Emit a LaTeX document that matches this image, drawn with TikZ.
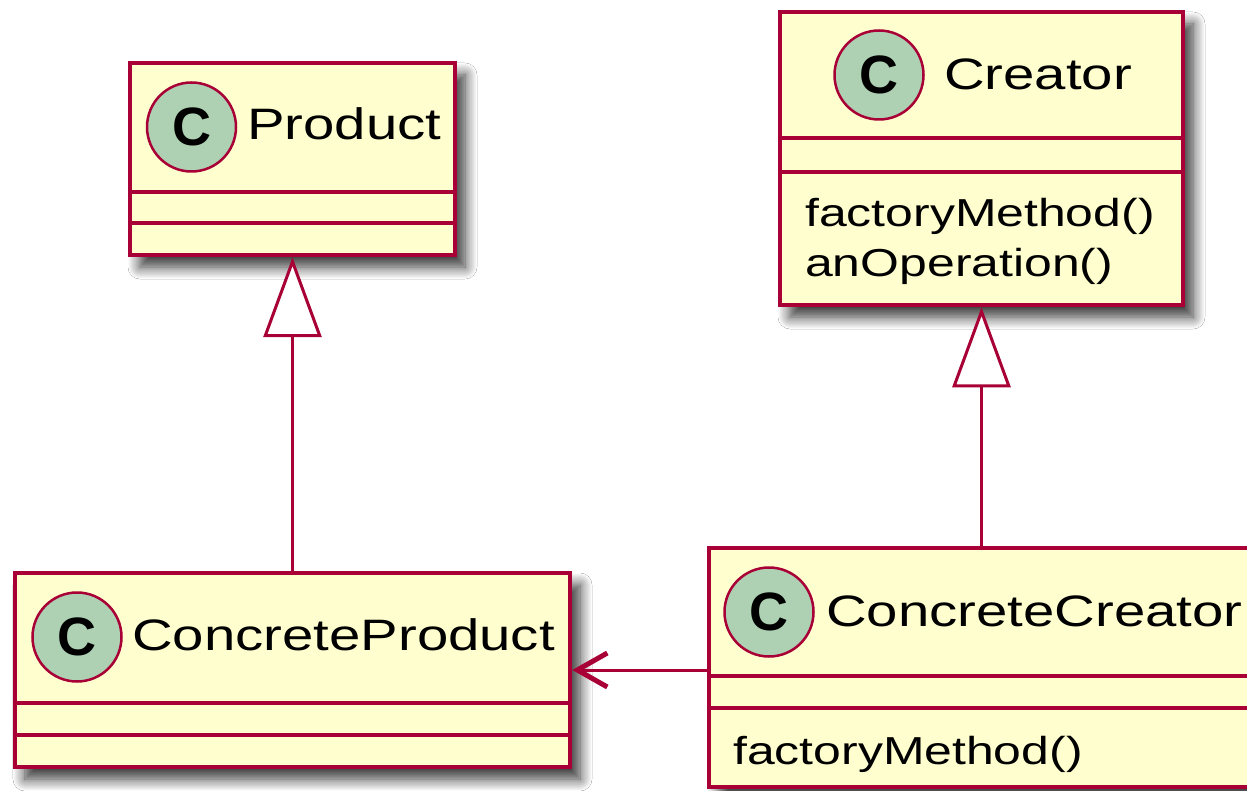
\documentclass[tikz,border=0pt]{standalone}
\usepackage{fontspec}
\setmainfont{Liberation Sans}
\newfontfamily\umlfont[FakeStretch=1.28]{Liberation Sans}
\usetikzlibrary{arrows.meta,shadows.blur}
\definecolor{umlfill}{HTML}{FEFECE}
\definecolor{umlborder}{HTML}{A80036}
\definecolor{umlcirc}{HTML}{ADD1B2}
\tikzset{
  classbox/.style={rectangle, draw=umlborder, fill=umlfill, line width=4.5pt, inner sep=0pt,
    blur shadow={shadow xshift=10pt, shadow yshift=-12pt, shadow blur radius=12pt, shadow blur steps=12, shadow opacity=80}},
  sepline/.style={draw=umlborder, line width=4pt},
  spot/.style={circle, draw=umlborder, fill=umlcirc, line width=2.5pt, minimum size=89pt, inner sep=0pt,
    font=\fontsize{54}{54}\selectfont\bfseries},
  cname/.style={anchor=base west, inner sep=0pt, font=\umlfont\fontsize{44}{44}\selectfont},
  member/.style={anchor=base west, inner sep=0pt, font=\umlfont\fontsize{39}{50}\selectfont},
  inherit/.style={draw=umlborder, line width=3pt, -{Triangle[length=80pt,width=58pt,fill=white]}},
  assoc/.style={draw=umlborder, line width=3pt, -{Straight Barb[length=30pt,width=34pt,line width=5pt]}},
}
\begin{document}
\begin{tikzpicture}[x=1pt,y=-1pt]
\useasboundingbox (0,0) rectangle (1247,791);
\fill[white] (0,0) rectangle (1247,791);
\clip (0,0) rectangle (1247,791);

% Product
\node[classbox, minimum width=325pt, minimum height=192pt] (prod) at (292.5,159) {};
\draw[sepline] (prod.west |- 0,192) -- (prod.east |- 0,192);
\draw[sepline] (prod.west |- 0,223) -- (prod.east |- 0,223);
\node[spot] (prodspot) at (191.5,127) {C};
\node[cname] (prodname) at (247,140) {Product};

% Creator
\node[classbox, minimum width=403pt, minimum height=293pt] (creator) at (981.5,158.5) {};
\draw[sepline] (creator.west |- 0,138) -- (creator.east |- 0,138);
\draw[sepline] (creator.west |- 0,172) -- (creator.east |- 0,172);
\node[spot] (creatorspot) at (879,75) {C};
\node[cname] (creatorname) at (944,90) {Creator};
\node[member] (creatorm1) at (805,227) {factoryMethod()};
\node[member] (creatorm2) at (805,277) {anOperation()};

% ConcreteProduct
\node[classbox, minimum width=555pt, minimum height=194pt] (cprod) at (292.5,670) {};
\draw[sepline] (cprod.west |- 0,703) -- (cprod.east |- 0,703);
\draw[sepline] (cprod.west |- 0,735) -- (cprod.east |- 0,735);
\node[spot] (cprodspot) at (77,637) {C};
\node[cname] (cprodname) at (132,650) {ConcreteProduct};

% ConcreteCreator
\node[classbox, minimum width=545pt, minimum height=239pt] (ccreator) at (981.5,667.5) {};
\draw[sepline] (ccreator.west |- 0,676) -- (ccreator.east |- 0,676);
\draw[sepline] (ccreator.west |- 0,708) -- (ccreator.east |- 0,708);
\node[spot] (ccreatorspot) at (769,612) {C};
\node[cname] (ccreatorname) at (826,626) {ConcreteCreator};
\node[member] (ccreatorm1) at (733,764) {factoryMethod()};

% connectors
\draw[inherit] (cprod.north) -- (cprod.north |- prod.south);
\draw[inherit] (ccreator.north) -- (creator.south);
\draw[assoc] (ccreator.west |- cprod.east) -- (cprod.east);
\end{tikzpicture}
\end{document}
